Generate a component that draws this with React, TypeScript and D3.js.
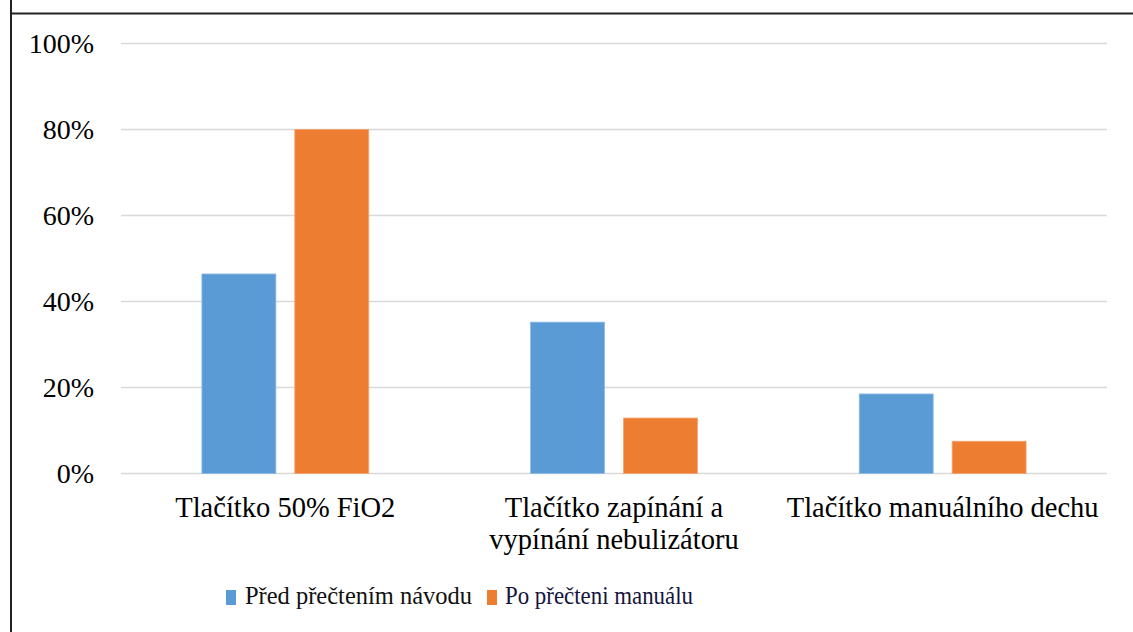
import React, { useEffect, useRef } from "react";
import { select, scaleBand, scaleLinear, format } from "d3";

const categories = [
  ["Tlačítko 50% FiO2"],
  ["Tlačítko zapínání a", "vypínání nebulizátoru"],
  ["Tlačítko manuálního dechu"],
];
const seriesNames = ["Před přečtením návodu", "Po přečteni manuálu"];
const seriesColors = ["#5b9bd5", "#ed7d31"];
const seriesStrokes = ["#8dbbe6", "#f4a570"];
const beforeValues = [0.464, 0.352, 0.185];
const afterValues = [0.8, 0.129, 0.075];
const yTicks = [0, 0.2, 0.4, 0.6, 0.8, 1];
const legendTextWidths = [227, 188];
const legendTextColors = ["#111111", "#14143c"];

const width = 1133;
const height = 632;
const margin = { top: 43.5, right: 26, bottom: 158.5, left: 121 };
const serif = '"Liberation Serif"';

const App = () => {
  const svgRef = useRef(null);

  useEffect(() => {
    const svg = select(svgRef.current);
    svg.selectAll("*").remove();

    const values = [beforeValues, afterValues];

    const x0 = scaleBand()
      .domain(categories.map((_, i) => String(i)))
      .range([margin.left, width - margin.right]);

    const x1 = scaleBand()
      .domain(seriesNames)
      .range([0, x0.bandwidth()])
      .paddingInner(0.204)
      .paddingOuter(0.871);

    const y = scaleLinear()
      .domain([0, 1])
      .range([height - margin.bottom, margin.top]);

    const pct = format(".0%");

    // frame
    svg.append("line").attr("x1", 11).attr("y1", 0).attr("x2", 11).attr("y2", height)
      .attr("stroke", "#222").attr("stroke-width", 2);
    svg.append("line").attr("x1", 10).attr("y1", 13.5).attr("x2", width).attr("y2", 13.5)
      .attr("stroke", "#222").attr("stroke-width", 2);

    // gridlines + tick labels
    const ticks = svg.selectAll(".tick").data(yTicks).join("g").attr("class", "tick");
    ticks.append("line")
      .attr("x1", margin.left)
      .attr("x2", width - margin.right)
      .attr("y1", (d) => y(d))
      .attr("y2", (d) => y(d))
      .attr("stroke", "#d9d9d9")
      .attr("stroke-width", 1.6);
    ticks.append("text")
      .attr("x", 94)
      .attr("y", (d) => y(d) + 9.5)
      .attr("text-anchor", "end")
      .attr("font-family", serif)
      .style("font-family", serif)
      .style("font-size", "28px")
      .text((d) => pct(d));

    // bars
    svg.selectAll(".group")
      .data(categories.map((_, i) => i))
      .join("g")
      .attr("class", "group")
      .attr("transform", (ci) => `translate(${x0(String(ci))},0)`)
      .selectAll("rect")
      .data((ci) => seriesNames.map((s, si) => ({ s, si, v: values[si][ci] })))
      .join("rect")
      .attr("x", (d) => x1(d.s))
      .attr("y", (d) => y(d.v))
      .attr("width", x1.bandwidth())
      .attr("height", (d) => y(0) - y(d.v))
      .attr("fill", (d) => seriesColors[d.si])
      .attr("stroke", (d) => seriesStrokes[d.si])
      .attr("stroke-width", 0.8);

    // category labels
    categories.forEach((lines, ci) => {
      const cx = x0(String(ci)) + x0.bandwidth() / 2;
      lines.forEach((l, li) => {
        svg.append("text")
          .attr("x", cx)
          .attr("y", 517 + li * 32)
          .attr("text-anchor", "middle")
          .attr("font-family", serif)
          .style("font-family", serif)
          .style("font-size", "28.5px")
          .text(l);
      });
    });

    // legend
    const legendX = [226, 487];
    seriesNames.forEach((s, si) => {
      const g = svg.append("g").attr("transform", `translate(${legendX[si]},590)`);
      g.append("rect").attr("width", 10).attr("height", 15).attr("fill", seriesColors[si]);
      g.append("text")
        .attr("x", si === 0 ? 19 : 18)
        .attr("y", 14)
        .attr("fill", legendTextColors[si])
        .attr("font-family", serif)
        .style("font-family", serif)
        .style("font-size", "26px")
        .attr("textLength", legendTextWidths[si])
        .attr("lengthAdjust", "spacingAndGlyphs")
        .text(s);
    });
  }, []);

  return (
    <svg
      ref={svgRef}
      width={width}
      height={height}
      style={{ position: "absolute", left: 0, top: 0, background: "#fff" }}
    ></svg>
  );
};

export default App;
